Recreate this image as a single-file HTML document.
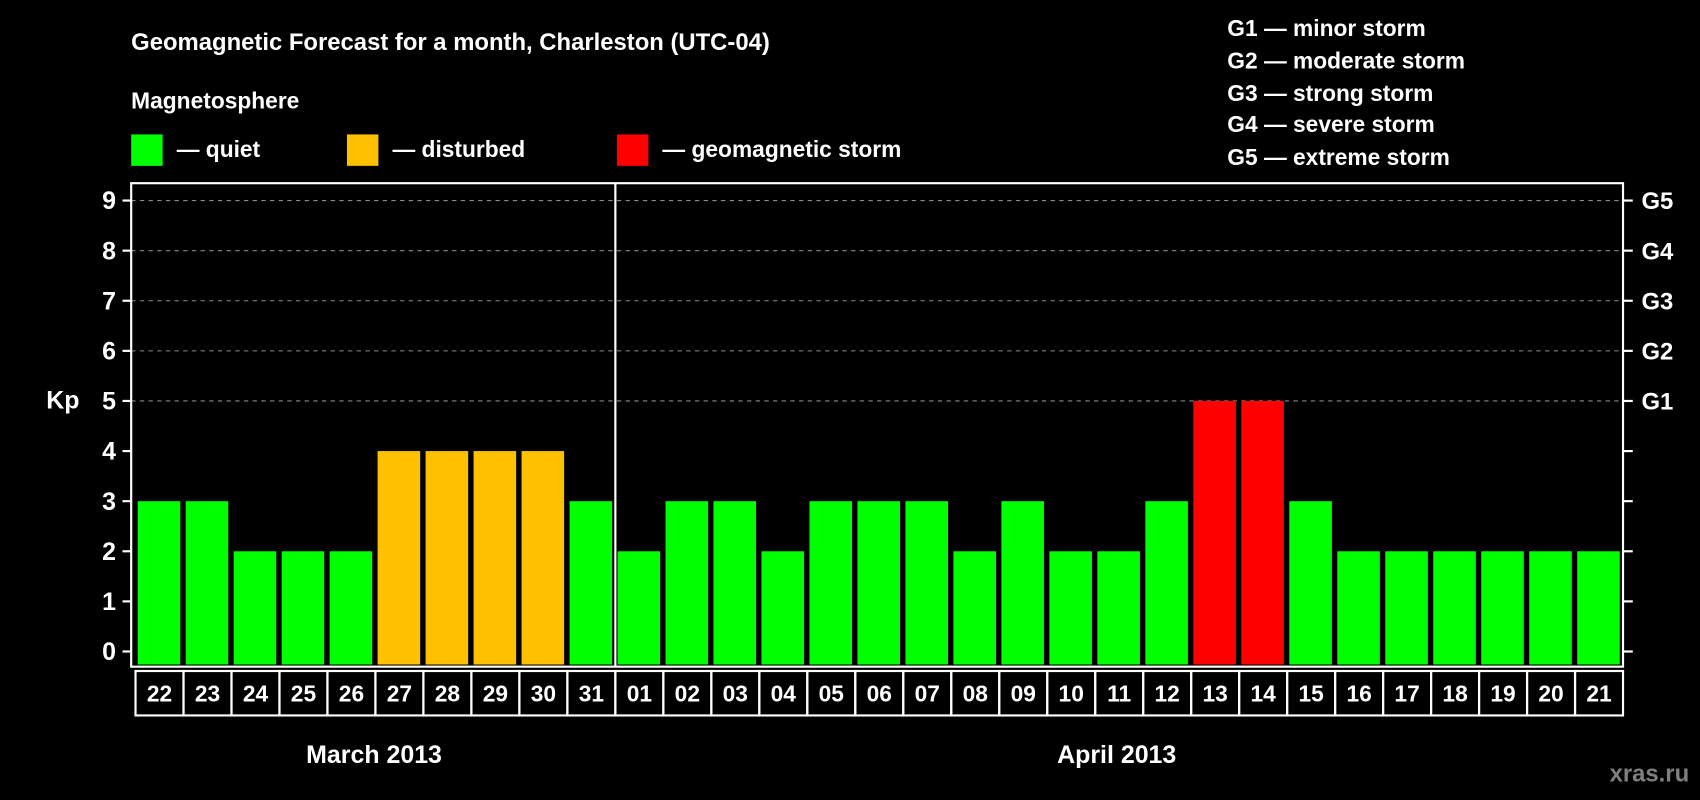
<!DOCTYPE html>
<html><head><meta charset="utf-8"><style>
html,body{margin:0;padding:0;background:#000;}
svg{display:block;}
text{font-family:"Liberation Sans",Arial,sans-serif;font-weight:bold;fill:#fff;}
</style></head><body>
<svg id="chart" width="1700" height="800" viewBox="0 0 1568 738" preserveAspectRatio="none" xmlns="http://www.w3.org/2000/svg">
<rect width="1568" height="738" fill="#000"/>
<text x="121" y="46" font-size="22">Geomagnetic Forecast for a month, Charleston (UTC-04)</text>
<text x="121" y="100" font-size="21">Magnetosphere</text>
<g><rect x="121" y="124" width="29" height="29" fill="#00ff00"/><text x="163" y="145" font-size="21">— quiet</text></g>
<g><rect x="320" y="124" width="29" height="29" fill="#ffc000"/><text x="362" y="145" font-size="21">— disturbed</text></g>
<g><rect x="569" y="124" width="29" height="29" fill="#ff0000"/><text x="611" y="145" font-size="21">— geomagnetic storm</text></g>
<g font-size="21">
<text x="1132" y="33">G1 — minor storm</text>
<text x="1132" y="63">G2 — moderate storm</text>
<text x="1132" y="93">G3 — strong storm</text>
<text x="1132" y="122">G4 — severe storm</text>
<text x="1132" y="152">G5 — extreme storm</text>
</g>
<g id="grid"></g>
<g id="bars"></g>
<g id="axes"></g>
<text x="58" y="377" font-size="23" text-anchor="middle">Kp</text>
<text x="345" y="704" font-size="23" text-anchor="middle">March 2013</text>
<text x="1030" y="704" font-size="23" text-anchor="middle">April 2013</text>
<text x="1558" y="721" font-size="22" text-anchor="end" style="fill:#808080">xras.ru</text>
</svg>
<script>
const dates = ["22","23","24","25","26","27","28","29","30","31","01","02","03","04","05","06","07","08","09","10","11","12","13","14","15","16","17","18","19","20","21"];
const kpValues = [3,3,2,2,2,4,4,4,4,3,2,3,3,2,3,3,3,2,3,2,2,3,5,5,3,2,2,2,2,2,2];
const yTicks = [0,1,2,3,4,5,6,7,8,9];
const gLabels = ["G1","G2","G3","G4","G5"];
const gLevels = [5,6,7,8,9];
const monthSplitIndex = 10;

const NS="http://www.w3.org/2000/svg";
const L=121,R=1497,T=169,B=615;
const y0=601,y9=185;
const yScale=v=>y0-(y0-y9)*v/9;
const bx0=125, pitch=(R-bx0)/dates.length;
const xScale=i=>bx0+i*pitch;
function mk(tag,attrs,parent){const e=document.createElementNS(NS,tag);for(const k in attrs)e.setAttribute(k,attrs[k]);parent.appendChild(e);return e;}
const grid=document.getElementById('grid'),bars=document.getElementById('bars'),axes=document.getElementById('axes');
gLevels.forEach((v,i)=>{
  const ln=mk('line',{x1:L,x2:R,y1:yScale(v),y2:yScale(v),stroke:'#8a8a8a','stroke-width':1,'stroke-dasharray':'4 4'},grid);
  
  
  const t=mk('text',{x:1514,y:yScale(v)+8,'font-size':22},axes);t.textContent=gLabels[i];
  
  
});
function color(v){return v>=5?'#ff0000':(v>=4?'#ffc000':'#00ff00');}
kpValues.forEach((v,i)=>{
  const r=mk('rect',{x:xScale(i)+2,y:yScale(v),width:pitch-5,height:y0-yScale(v)+12,fill:color(v)},bars);
  
  
});
const frame=mk('rect',{x:L,y:T,width:R-L,height:B-T,fill:'none',stroke:'#fff','stroke-width':2},axes);


const dv=mk('line',{x1:xScale(monthSplitIndex),x2:xScale(monthSplitIndex),y1:T,y2:B,stroke:'#fff','stroke-width':2},axes);


yTicks.forEach(v=>{
  mk('line',{x1:113,x2:L,y1:yScale(v),y2:yScale(v),stroke:'#fff','stroke-width':2},axes);
  mk('line',{x1:R,x2:1506,y1:yScale(v),y2:yScale(v),stroke:'#fff','stroke-width':2},axes);
  const t=mk('text',{x:107,y:yScale(v)+8,'font-size':23,'text-anchor':'end'},axes);t.textContent=v;
  
  
});
dates.forEach((d,i)=>{
  const r=mk('rect',{x:xScale(i),y:619,width:pitch,height:41,fill:'none',stroke:'#fff','stroke-width':2},axes);
  
  
  const t=mk('text',{x:xScale(i)+pitch/2,y:647,'font-size':21,'text-anchor':'middle'},axes);t.textContent=d;
  
  
});
</script>
</body></html>
